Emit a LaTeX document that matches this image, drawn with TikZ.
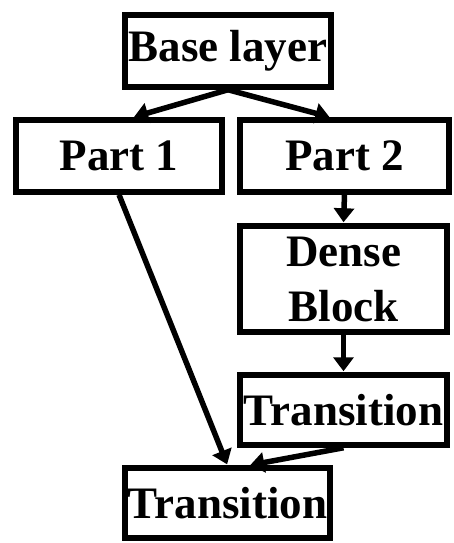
\documentclass[tikz,border=0pt]{standalone}
\usepackage{fontspec}
\setmainfont{Liberation Serif}
\usetikzlibrary{arrows.meta}
\begin{document}
\begin{tikzpicture}[x=1pt,y=-1pt,shorten >=1pt]
        \tikzstyle{layer}=[rectangle,draw=black,line width=6pt,inner sep=0pt,minimum width=205.5pt,minimum height=71.5pt,font=\fontsize{45}{55}\selectfont\bfseries,align=center]
        \tikzstyle{edge}=[draw=black,line width=5.5pt,-{Triangle[length=14pt,width=20pt]}]

        \useasboundingbox (0,0) rectangle (453,543);

        \node [layer] (base) at (228,51) {Base layer};
        \node [layer] (part1) at (119,156) {Part 1};
        \node [layer,minimum width=208.5pt] (part2) at (344.5,156) {Part 2};
        \node [layer,minimum width=206.5pt,minimum height=105.5pt] (dense) at (343.5,279) {Dense\\Block};
        \node [layer,minimum width=206.5pt,minimum height=69.5pt] (trans1) at (343.5,410) {Transition};
        \node [layer,minimum width=204.5pt,minimum height=69.5pt] (trans2) at (227.5,503) {Transition};

        \draw[edge] (base.south) -- (part1.70);
        \draw[edge] (base.south) -- (part2.110);
        \draw[edge] (part2.south) -- (dense.north);
        \draw[edge] (dense.south) -- (trans1.north);
        \draw[edge] (part1.south) -- (trans2.north);
        \draw[edge] (trans1.south) -- (trans2.60);
\end{tikzpicture}
\end{document}
